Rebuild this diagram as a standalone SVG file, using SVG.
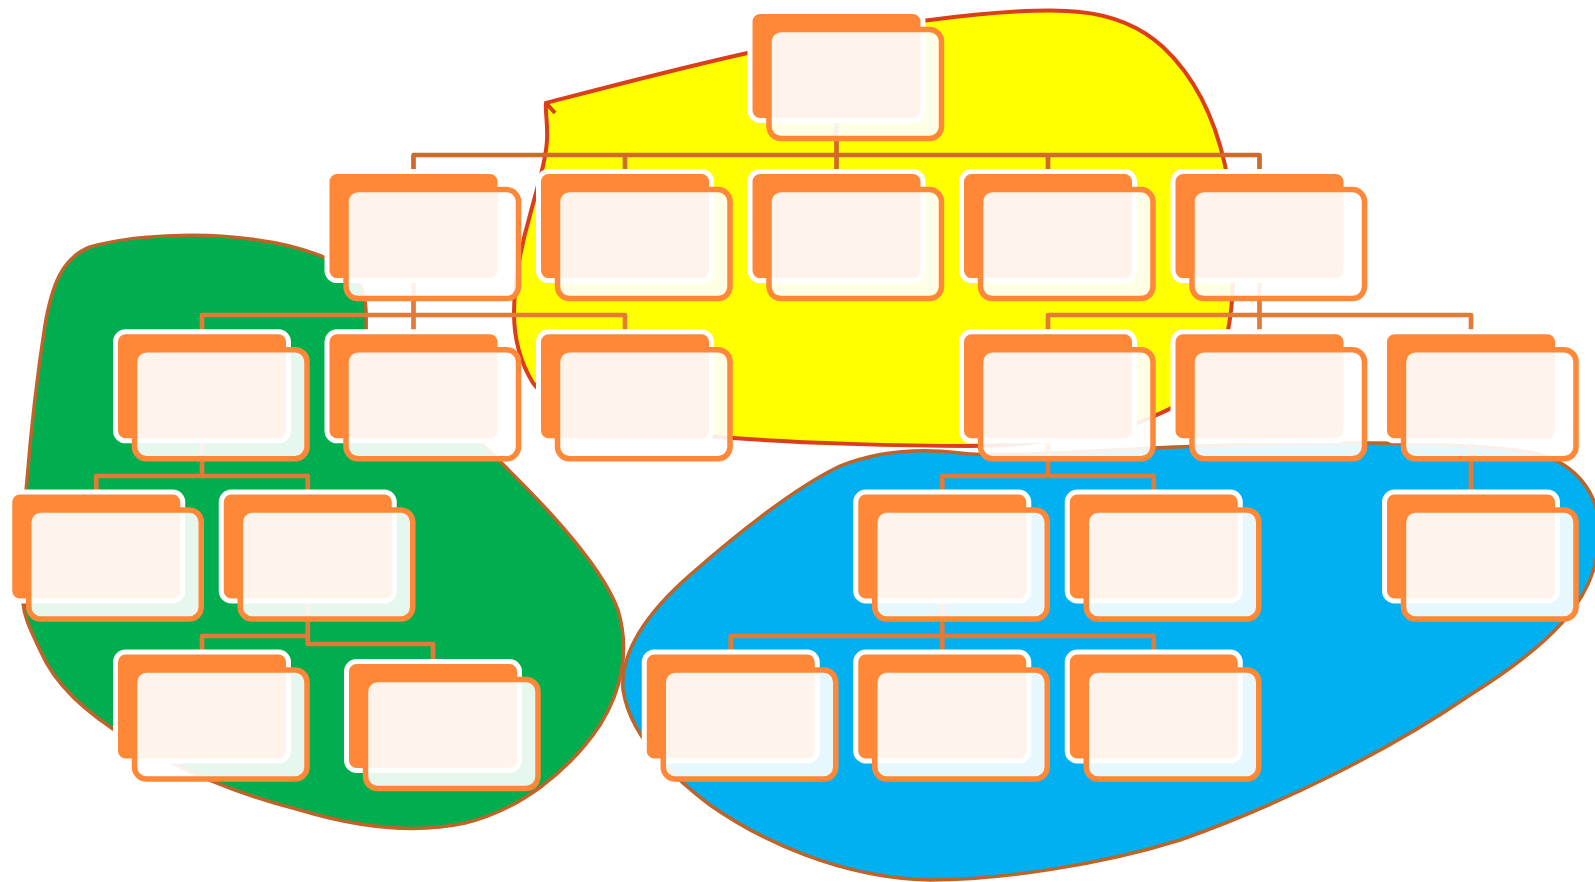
<svg xmlns="http://www.w3.org/2000/svg" width="1595" height="882" viewBox="0 0 1595 882">
<style>
.back{fill:#FF8838;stroke:#FFFFFF;stroke-width:5}
.front{fill:#FFFFFF;fill-opacity:0.9;stroke:#FF8838;stroke-width:5.5}
.con1{fill:none;stroke:#CF6A2B;stroke-width:4.7;stroke-linejoin:round}
.con2{fill:none;stroke:#E47A37;stroke-width:4.7;stroke-linejoin:round}
.blob{stroke:#BE6429;stroke-width:3.5}
</style>
<defs>
<g id="nd">
<rect class="back" x="0" y="0" width="173" height="109" rx="10"/>
<rect class="front" x="19" y="18" width="172.5" height="109" rx="12"/>
</g>
</defs>
<rect width="1595" height="882" fill="#FFFFFF"/>
<g id="blobs">
<path id="yellow-blob" fill="#FFFF00" stroke="#DC3D1B" stroke-width="4" d="M546,103 C650,76 800,36 930,20 C990,12 1050,8 1080,12 C1110,15 1140,26 1163,47 C1195,77 1215,120 1225,165 C1235,215 1236,290 1228,330 C1222,360 1210,385 1190,398 C1170,410 1150,418 1140,422 C1090,438 1020,446 970,446 C900,446 800,443 733,438 C680,435 600,425 570,410 C550,400 540,392 533,383 C522,365 514,340 514,313 C514,285 520,250 530,215 C538,185 546,160 547,140 C548,125 545,110 546,103 Z"/>
<path fill="none" stroke="#DC3D1B" stroke-width="4" d="M546,103 L555,113"/>
<path id="green-blob" class="blob" fill="#00AE4F" d="M23,603 C22,570 23,520 27,480 C31,430 38,370 45,325 C52,285 62,258 90,247 C130,235 200,232 250,239 C300,245 345,260 360,285 C368,300 366,320 366,340 C380,380 440,405 483,445 C530,490 600,560 618,610 C630,650 622,690 600,725 C570,770 520,810 465,823 C410,835 350,825 300,810 C240,795 180,770 130,740 C85,712 55,685 40,650 C28,625 24,615 23,603 Z"/>
<path id="blue-blob" class="blob" fill="#00B0F0" d="M623,690 C620,650 650,610 690,575 C730,540 790,490 840,466 C880,450 920,448 960,453 C1000,458 1100,450 1200,446 C1300,442 1450,440 1530,452 C1580,462 1605,500 1598,545 C1595,600 1550,645 1470,695 C1390,750 1280,805 1180,840 C1100,865 1000,880 930,880 C840,878 760,840 710,805 C670,775 630,735 623,690 Z"/>
</g>
<g id="connectors">
<path class="con1" d="M413.5,180 V155 H1259.5 V180"/>
<path class="con1" d="M625,155 V180"/>
<path class="con1" d="M836.5,60 V180"/>
<path class="con1" d="M1048,155 V180"/>
<path class="con2" d="M202,340 V315 H625 V340"/>
<path class="con2" d="M413.5,230 V340"/>
<path class="con2" d="M1048,340 V315 H1471 V340"/>
<path class="con2" d="M1259.5,230 V340"/>
<path class="con2" d="M96.25,500 V476 H307.75 V500"/>
<path class="con2" d="M202,390 V476"/>
<path class="con2" d="M942.25,500 V476 H1153.75 V500"/>
<path class="con2" d="M1048,390 V476"/>
<path class="con2" d="M1471,390 V500"/>
<path class="con2" d="M202,660 V636 H307.75"/>
<path class="con2" d="M307.75,550 V644 H433 V670"/>
<path class="con2" d="M730.75,660 V636 H1153.75 V660"/>
<path class="con2" d="M942.25,550 V660"/>
</g>
<g id="node-0"><use href="#nd" x="750" y="11.5"/></g>
<g id="node-1-1"><use href="#nd" x="327" y="171.6"/></g>
<g id="node-1-2"><use href="#nd" x="538.5" y="171.6"/></g>
<g id="node-1-3"><use href="#nd" x="750" y="171.6"/></g>
<g id="node-1-4"><use href="#nd" x="961.5" y="171.6"/></g>
<g id="node-1-5"><use href="#nd" x="1173" y="171.6"/></g>
<g id="node-2-1"><use href="#nd" x="115.5" y="331.8"/></g>
<g id="node-2-2"><use href="#nd" x="327" y="331.8"/></g>
<g id="node-2-3"><use href="#nd" x="538.5" y="331.8"/></g>
<g id="node-2-4"><use href="#nd" x="961.5" y="331.8"/></g>
<g id="node-2-5"><use href="#nd" x="1173" y="331.8"/></g>
<g id="node-2-6"><use href="#nd" x="1384.5" y="331.8"/></g>
<g id="node-3-1"><use href="#nd" x="9.75" y="492"/></g>
<g id="node-3-2"><use href="#nd" x="221.25" y="492"/></g>
<g id="node-3-3"><use href="#nd" x="855.75" y="492"/></g>
<g id="node-3-4"><use href="#nd" x="1067.25" y="492"/></g>
<g id="node-3-5"><use href="#nd" x="1384.5" y="492"/></g>
<g id="node-4-1"><use href="#nd" x="115.5" y="652"/></g>
<g id="node-4-2"><use href="#nd" x="346.5" y="661.5"/></g>
<g id="node-4-3"><use href="#nd" x="644.25" y="652"/></g>
<g id="node-4-4"><use href="#nd" x="855.75" y="652"/></g>
<g id="node-4-5"><use href="#nd" x="1067.25" y="652"/></g>
</svg>
